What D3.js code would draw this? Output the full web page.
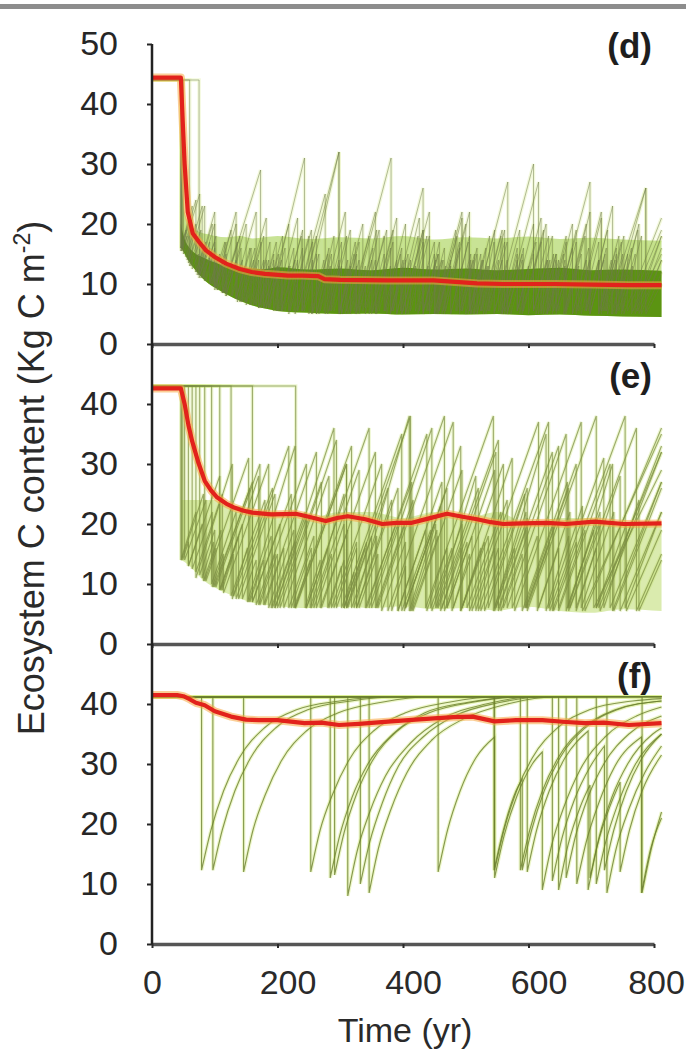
<!DOCTYPE html>
<html>
<head>
<meta charset="utf-8">
<script src="https://cdn.jsdelivr.net/npm/d3@7"></script>
<style>
  body { margin: 0; background: #fff; }
  svg { display: block; }
</style>
</head>
<body>
<div id="chart"></div>
<script>
// ---- Data ----
var endYear = 812;
var xTicks = [0, 200, 400, 600, 800];
var yTicksTop = [0, 10, 20, 30, 40, 50];
var yTicks = [0, 10, 20, 30, 40];
var panelNames = ["(d)", "(e)", "(f)"];

// mean ecosystem C (red lines)
var dMeanYear = [0,46,49,52,57,65,75,86,100,118,140,159,180,217,240,265,275,300,375,449,518,560,642,700,760,812];
var dMeanC    = [44.4,44.4,37,30,22,18.4,17,15.6,14.5,13.4,12.5,12,11.7,11.4,11.4,11.3,10.8,10.7,10.6,10.6,10.1,10.0,10.0,9.9,9.8,9.8];
var eMeanYear = [0,46,52,58,64,74,84,94,104,118,132,146,160,190,229,250,277,295,312,340,367,390,414,440,470,495,518,540,560,590,629,660,705,752,812];
var eMeanC    = [42.6,42.6,40,36.5,33.8,30.2,27.2,25.6,24.4,23.4,22.7,22.2,21.9,21.6,21.7,21.2,20.5,21,21.3,20.8,20.0,20.2,20.2,20.9,21.7,21.2,20.8,20.3,20.0,20.1,20.2,20.0,20.4,20.0,20.1];
var fMeanYear = [0,40,50,60,70,84,100,126,150,170,200,243,270,298,330,381,420,449,480,511,546,580,622,660,690,720,760,812];
var fMeanC    = [41.5,41.5,41.3,40.8,40.2,39.8,38.8,37.9,37.4,37.3,37.3,36.8,36.9,36.5,36.7,37.1,37.4,37.6,37.8,37.9,37.1,37.3,37.3,37.0,36.8,36.9,36.5,36.8];

// dense envelopes of the simulated stands
var dBandYear = [46,48,52,60,70,80,90,100,120,140,160,180,200,250,300,350,400,450,500,550,600,650,700,750,812];
var dBandLow  = [16,15.8,15,13.6,12.2,11,10.1,9.4,8.2,7.2,6.4,5.9,5.5,5.2,5.0,5.1,4.9,5.0,4.9,5.0,4.8,4.9,4.7,4.6,4.5];
var dBandMid  = [20,19,17.5,16,15,14.5,14,13.6,13,12.8,12.6,12.5,12.8,12.4,12.6,12.3,12.7,12.4,12.6,12.3,12.5,12.7,12.3,12.4,12.2];
var dBandHigh = [26,25,22,20,19,18.5,18.3,18,17.8,18,17.6,17.8,18,17.5,17.8,17.6,18,17.4,17.8,17.6,17.9,17.5,17.7,17.4,17.2];
var eBandYear = [46,50,60,80,100,120,140,160,200,250,300,350,400,450,500,550,600,650,700,750,812];
var eBandLow  = [14,13.8,13,10.8,9.4,8.4,7.6,6.9,6.3,6,6.2,6,6.3,5.8,6,5.6,6.2,5.5,5.2,5.8,5.5];
var eBandHigh = [24,24,24,24,24,23,23,22,22,21,22,22,21,22,21,22,20,21,21,20,20];

// stand trajectories, panels d and e: [year of disturbance, C after it, C reached at next disturbance]
var dTraces = [
  [[0,44,44],[47,16,21],[60,13,19],[78,11,17],[100,9,15],[118,8,20],[150,6.5,14],[170,6,17],[198,5.5,13],[218,5,18],[250,5,12],[268,5.5,22],[308,5,14],[330,5,19],[362,5.5,13],[380,5,26],[432,5,15],[456,5.5,13],[476,5,17],[504,5,14],[526,5.5,18],[556,5,12],[572,5,20],[608,5.5,14],[630,5,17],[660,5,13],[680,5.5,21],[716,5,14],[738,5,16],[764,5,15]],
  [[0,44,44],[46,15.5,20],[58,13.5,23],[84,10.5,16],[100,9.5,19],[126,8,14],[144,7,21],[182,6,13],[200,5.5,16],[226,5.5,25],[276,5,14],[298,5.5,17],[324,5,12],[340,6,19],[374,5,15],[396,5.5,18],[424,5,13],[440,5.5,16],[466,5,22],[506,5.5,14],[528,5,19],[562,5.5,27],[616,5,15],[640,5.5,13],[658,5,18],[690,5.5,14],[712,5,16],[740,5.5,20],[776,5,14]],
  [[0,44,44],[48,16,24],[70,12,17],[86,10.5,15],[98,9.5,17],[118,8,14],[134,7.5,16],[156,6.5,12],[170,6,13],[186,6,31],[243,5.5,15],[266,5,13],[284,5.5,19],[316,5,31],[381,5.5,14],[404,5,17],[432,5.5,15],[456,5,18],[486,5.5,14],[508,5,12],[524,5.5,19],[558,5,15],[582,5.5,17],[612,5,14],[634,5.5,20],[670,5,16],[696,5.5,23],[734,5,15],[758,5.5,19]],
  [[0,44,44],[60,14,18],[72,11.5,22],[100,9.5,14],[112,8.5,29],[173,6.5,15],[194,6,12],[206,5.5,18],[238,5.5,14],[256,5,16],[282,5.5,13],[298,5,20],[336,5.5,14],[356,5,17],[384,5.5,12],[398,5,19],[432,5.5,14],[452,5,22],[494,5.5,16],[518,5,13],[534,5.5,17],[562,5,14],[582,5.5,21],[620,5,15],[644,5.5,27],[698,5,14],[720,5.5,17],[748,5,13],[766,5.5,18]],
  [[0,44,44],[75,11,17],[92,10,14],[104,9,13],[114,8.5,18],[140,7,16],[164,6.5,14],[182,6,20],[218,5.5,16],[240,5.5,32],[298,5,15],[322,5.5,13],[340,5,18],[370,5.5,14],[390,5,21],[426,5.5,15],[450,5,13],[468,5.5,16],[490,5,14],[512,5,27],[567,5.5,14],[590,5,17],[620,5.5,15],[644,5,19],[676,5.5,14],[698,5,16],[724,5.5,26],[787,5,10]],
  [[0,44,44],[46,16,19],[54,14.5,20],[70,12,16],[82,11,18],[102,9.5,22],[134,7.5,13],[148,7,17],[174,6,14],[194,5.5,21],[232,5.5,32],[298,5,13],[316,5.5,18],[346,5,15],[370,5.5,20],[404,5,13],[420,5.5,17],[450,5,19],[484,5.5,15],[508,5,18],[538,5.5,14],[558,5,16],[582,5.5,13],[600,5,18],[632,5.5,15],[656,5,20],[692,5.5,14],[712,5,18],[744,5.5,15],[770,5,18]],
  [[0,44,44],[47,15.5,18],[56,14,23],[80,11,15],[94,10,13],[104,9,20],[134,7.5,16],[158,6.5,14],[178,6,18],[208,5.5,14],[228,5,17],[256,5.5,15],[280,5,18],[310,5.5,13],[326,5,16],[352,5.5,21],[390,5,14],[412,5.5,18],[442,5,14],[464,5.5,20],[500,5,15],[524,5.5,17],[545,5,30],[608,5.5,14],[630,5,18],[660,5.5,15],[684,5,17],[712,5.5,14],[732,5,26],[787,5.5,12]],
  [[0,44,44],[49,15.5,25],[76,11.5,16],[92,10,15],[108,9,13],[118,8.5,16],[142,7,14],[162,6.5,17],[188,6,14],[206,5.5,19],[240,5.5,15],[262,5,18],[290,5.5,14],[312,5,22],[356,5.5,16],[380,5,14],[400,5.5,19],[432,5,17],[458,5.5,14],[476,5,18],[506,5.5,16],[532,5,14],[552,5.5,19],[586,5,15],[608,5.5,18],[638,5,14],[658,5.5,22],[698,5,15],[722,5.5,18],[752,5,21]],
  [[0,44,44],[50,15,19],[62,13,17],[76,11.5,20],[100,9.5,14],[112,8.5,17],[136,7,12],[150,7,18],[178,6,15],[202,5.5,13],[220,5.5,19],[254,5,14],[274,5.5,17],[302,5,15],[326,5.5,19],[358,5,12],[372,5.5,16],[398,5,22],[442,5.5,14],[462,5,17],[490,5.5,15],[514,5,19],[546,5.5,14],[566,5,16],[592,5.5,20],[628,5,14],[648,5.5,17],[676,5,22],[716,5.5,15],[740,5,19],[774,5.5,16]],
  [[0,44,44],[46,16,23],[64,12.5,15],[74,11.5,20],[96,10,17],[116,8.5,13],[128,8,22],[166,6.5,14],[186,6,16],[212,5.5,14],[232,5.5,18],[262,5,15],[286,5.5,13],[302,5,17],[330,5.5,14],[350,5,19],[384,5.5,15],[408,5,18],[438,5.5,13],[454,5,21],[494,5.5,15],[518,5,13],[536,5.5,17],[566,5,15],[590,5.5,19],[624,5,14],[644,5.5,16],[670,5,14],[692,5.5,19],[726,5,15],[750,5.5,18],[780,5,14]]
];

var eTraces = [
  [[0,43,43],[46,14,22],[70,11,30],[128,7.5,16],[152,7,33],[228,6,14],[252,6,25],[306,6,12],[322,6,38],[410,5.5,20],[452,6,28],[516,5.5,16],[546,6,35],[628,5.5,18],[664,6,30],[734,5.5,27]],
  [[0,43,43],[47,14,25],[82,10.5,19],[110,9,28],[170,6.5,15],[196,6,36],[290,6,17],[326,6,24],[382,5.5,13],[404,6,33],[492,5.5,18],[536,6,26],[598,5.5,38],[708,6,20],[756,5.5,19]],
  [[0,43,43],[49,14,17],[58,13,28],[108,9,20],[144,7.5,14],[166,6.5,30],[246,6,16],[280,6,13],[302,6,35],[398,5.5,19],[444,6,16],[478,5.5,30],[560,6,15],[590,5.5,27],[662,6,22],[714,5.5,32]],
  [[0,43,43],[52,14,24],[86,10.5,31],[154,7,18],[190,6,22],[244,6,14],[268,6,32],[356,6,20],[402,5.5,26],[470,6,18],[510,5.5,37],[616,6,16],[648,5.5,30],[730,6,27]],
  [[0,43,43],[58,13,20],[80,11,17],[98,9.5,27],[160,7,25],[222,6,16],[254,6,29],[330,6,15],[360,6,38],[466,5.5,17],[502,6,22],[556,5.5,33],[648,6,19],[690,5.5,36]],
  [[0,43,43],[64,12.5,22],[96,9.5,15],[114,8.5,30],[186,6,19],[226,6,33],[318,6,18],[358,6,24],[416,5.5,29],[494,6,17],[530,5.5,25],[594,6,20],[640,5.5,38],[754,6,22]],
  [[0,43,43],[70,12,25],[112,9,15],[130,8,26],[192,6,17],[228,6,30],[310,6,16],[340,6,27],[414,5.5,18],[456,6,34],[552,5.5,19],[596,6,26],[664,5.5,20],[712,6,33]],
  [[0,43,43],[76,11.5,19],[100,9.5,26],[156,7,14],[178,6.5,32],[262,6,20],[306,6,17],[342,6,35],[438,5.5,16],[470,6,29],[546,5.5,21],[598,6,17],[634,5.5,31],[720,6,24],[776,5.5,14]],
  [[0,43,43],[84,10.5,16],[102,9.5,30],[172,6.5,15],[200,6,27],[270,6,19],[312,6,26],[376,5.5,37],[480,6,15],[506,5.5,24],[566,6,35],[660,5.5,19],[704,6,29]],
  [[0,43,43],[95,10,22],[134,7.5,33],[218,6,18],[258,6,15],[286,6,30],[366,5.5,17],[404,6,23],[460,5.5,32],[548,6,16],[578,5.5,37],[684,6,22],[736,5.5,26]],
  [[0,43,43],[108,9,18],[138,7.5,25],[196,6,21],[246,6,36],[346,6,20],[392,5.5,27],[462,6,16],[492,5.5,31],[574,6,18],[614,5.5,22],[666,6,36],[772,5.5,15]],
  [[0,43,43],[126,8,24],[180,6.5,16],[210,6,28],[282,6,14],[306,6,38],[412,5.5,19],[454,6,26],[520,5.5,16],[552,6,32],[638,5.5,17],[676,6,28],[746,5.5,22]],
  [[0,43,43],[160,7,20],[204,6,34],[294,6,16],[326,6,26],[392,5.5,19],[436,6,38],[544,5.5,22],[596,6,30],[676,5.5,16],[708,6,32]],
  [[0,43,43],[229,6,30],[310,6,18],[350,6,36],[446,5.5,20],[494,6,16],[524,5.5,37],[632,6,23],[686,5.5,35]]
];

// panel f trajectories: recovery pieces as [year, C] points
var fTraces = [
  [[[0,41.2],[79,41.2]], [[79,12.3],[94,19],[114,25.5],[139,31],[179,36],[229,39],[299,40.5],[379,41.2],[812,41.2]]],
  [[[0,41.2],[97,41.2]], [[97,12.3],[112,19],[132,25.5],[157,31],[197,36],[247,39],[317,40.5],[397,41.2],[587,41.2]], [[587,12.3],[602,19],[622,25.5],[647,31],[687,36],[737,39],[812,40.5]]],
  [[[0,41.2],[146,41.2]], [[146,12],[161,19],[181,25],[206,30.5],[246,35.5],[296,38.5],[366,40.3],[446,41.2],[546,41.2]], [[546,12.3],[561,19],[581,25.5],[606,31],[646,36],[696,39],[766,40.5],[812,40.9]]],
  [[[0,41.2],[253,41.2]], [[253,12],[268,19],[288,25],[313,30.5],[353,35.5],[403,38.5],[473,40.3],[553,41.2],[725,41.2]], [[725,8.5],[740,16],[760,22.5],[785,28.5],[812,33]]],
  [[[0,41.2],[284,41.2]], [[284,11],[299,18],[319,24.5],[344,30],[384,35],[434,38.5],[504,40.3],[584,41.2],[648,41.2]], [[648,9],[663,16.5],[683,23],[698,26.5]], [[698,11],[713,18],[733,24.5],[758,30],[798,35],[812,36]]],
  [[[0,41.2],[291,41.2]], [[291,11.5],[306,18.5],[326,25],[351,30.5],[391,35.5],[441,38.5],[511,40.3],[591,41.2],[812,41.2]]],
  [[[0,41.2],[312,41.2]], [[312,8],[327,15.5],[347,22],[372,28],[412,33.5],[462,37.5],[532,40],[612,41.2],[812,41.2]]],
  [[[0,41.2],[332,41.2]], [[332,10],[347,17],[367,23.5],[392,29.5],[432,34.5],[482,38],[552,40.2],[632,41.2],[677,41.2]], [[677,10],[692,17],[712,23.5],[737,29.5],[780,34.5]], [[780,8.5],[795,16],[812,21]]],
  [[[0,41.2],[346,41.2]], [[346,8.5],[361,16],[381,22.5],[406,28.5],[446,34],[496,37.5],[566,40],[646,41.2],[812,41.2]]],
  [[[0,41.2],[456,41.2]], [[456,12],[471,19],[491,25.5],[516,31],[546,34.5]], [[546,11],[561,18],[581,24.5],[606,30],[622,32]], [[622,9],[637,16.5],[657,23],[682,29],[722,34.5],[772,38],[812,39.5]]],
  [[[0,41.2],[545,41.2]], [[545,12.3],[560,19],[580,25.5],[590,27.5]], [[590,12.3],[605,19],[625,25.5],[650,31],[690,36],[740,39],[812,40.5]]],
  [[[0,41.2],[598,41.2]], [[598,12],[613,19],[633,25.5],[658,31],[695,35.5]], [[695,9],[710,16.5],[730,23],[746,27]], [[746,12],[761,19],[781,25.5],[812,31.5]]],
  [[[0,41.2],[638,41.2]], [[638,10.5],[653,17.5],[673,24],[698,29.5],[721,33]], [[721,12.3],[736,19],[756,25.5],[781,31],[812,35]]],
  [[[0,41.2],[660,41.2]], [[660,11],[675,18],[695,24.5],[720,30],[760,35],[812,38]]],
  [[[0,41.2],[708,41.2]], [[708,10],[723,17],[743,23.5],[768,29.5],[812,35]]],
  [[[0,41.2],[781,41.2]], [[781,8.5],[796,16],[812,22]]],
  [[[0,41.2],[812,41.2]]]
];

// ---- Chart parameters ----
var svgWidth = 686;
var svgHeight = 1053;
var panelTop = [44, 344, 644];
var panelHeight = 300;
var labelBaseline = [58, 388, 688];
var font = "'Liberation Sans', Arial, Helvetica, sans-serif";

var svg = d3.select("#chart")
  .append("svg")
  .attr("width", svgWidth)
  .attr("height", svgHeight);

// slight softening, the source is a blurry scan
svg.append("filter")
  .attr("id", "soft")
  .append("feGaussianBlur")
  .attr("stdDeviation", 0.5);

var xScale = d3.scaleLinear()
  .domain([0, 800])
  .range([152, 654]);

// turn sawtooth cycles into straight pieces
function sawSegments(cycles) {
  return cycles.map(function(c, i) {
    var tEnd = i < cycles.length - 1 ? cycles[i + 1][0] : endYear;
    return [[c[0], c[1]], [tEnd, c[2]]];
  });
}

function zip() {
  var cols = Array.prototype.slice.call(arguments);
  return cols[0].map(function(v, k) {
    return cols.map(function(c) { return c[k]; });
  });
}

var traceSets = [dTraces.map(sawSegments), eTraces.map(sawSegments), fTraces];
var means = [zip(dMeanYear, dMeanC), zip(eMeanYear, eMeanC), zip(fMeanYear, fMeanC)];
var bandLayers = [
  [
    {data: zip(dBandYear, dBandLow, dBandHigh), fill: "#a3d04e", opacity: 0.6},
    {data: zip(dBandYear, dBandLow, dBandMid), fill: "#55900a", opacity: 0.95}
  ],
  [
    {data: zip(eBandYear, eBandLow, eBandHigh), fill: "#bcdb6c", opacity: 0.55}
  ],
  []
];
var traceStyle = [
  {halo: "#e0f0a8", haloOp: 0.4, stroke: "#6e7c48", op: 0.5, w: 1},
  {halo: "#d9ee9c", haloOp: 0.45, stroke: "#7b8d42", op: 0.72, w: 1.1},
  {halo: "#dcef94", haloOp: 0.5, stroke: "#6c7f2e", op: 0.8, w: 1.1}
];

// top rule of the page
svg.append("rect")
  .attr("x", 0).attr("y", 4)
  .attr("width", svgWidth).attr("height", 5)
  .attr("fill", "#8d8d8d");

panelTop.forEach(function(top, i) {
  var yScale = d3.scaleLinear()
    .domain([0, 50])
    .range([top + panelHeight, top]);

  svg.append("clipPath")
    .attr("id", "clip" + i)
    .append("rect")
    .attr("x", xScale(0))
    .attr("y", top)
    .attr("width", xScale(endYear) - xScale(0) + 2)
    .attr("height", panelHeight);

  var plot = svg.append("g")
    .attr("clip-path", "url(#clip" + i + ")")
    .append("g")
    .attr("filter", "url(#soft)");

  // trajectories
  var line = d3.line()
    .x(d => xScale(d[0]))
    .y(d => yScale(d[1]))
    .curve(d3.curveMonotoneX);
  var paths = traceSets[i].map(function(segs) {
    return segs.map(function(s, k) {
      var p = line(s);
      return k ? "L" + p.slice(1) : p;
    }).join("");
  });
  var st = traceStyle[i];

  // pale glow first, then the envelopes, then the line cores
  plot.selectAll("path.halo")
    .data(paths)
    .enter()
    .append("path")
    .attr("class", "halo")
    .attr("d", d => d)
    .attr("fill", "none")
    .attr("stroke", st.halo)
    .attr("stroke-width", 3.5)
    .attr("opacity", st.haloOp);

  var area = d3.area()
    .x(d => xScale(d[0]))
    .y0(d => yScale(d[1]))
    .y1(d => yScale(d[2]))
    .curve(d3.curveMonotoneX);
  bandLayers[i].forEach(function(b) {
    plot.append("path")
      .attr("d", area(b.data))
      .attr("fill", b.fill)
      .attr("opacity", b.opacity);
  });

  plot.selectAll("path.trace")
    .data(paths)
    .enter()
    .append("path")
    .attr("class", "trace")
    .attr("d", d => d)
    .attr("fill", "none")
    .attr("stroke", st.stroke)
    .attr("stroke-width", st.w)
    .attr("opacity", st.op);

  // mean line
  var meanLine = d3.line()
    .x(d => xScale(d[0]))
    .y(d => yScale(d[1]));
  plot.append("path")
    .attr("d", meanLine(means[i]))
    .attr("fill", "none")
    .attr("stroke", "#f7a640")
    .attr("stroke-width", 8)
    .attr("stroke-linejoin", "round")
    .attr("opacity", 0.55);
  plot.append("path")
    .attr("d", meanLine(means[i]))
    .attr("fill", "none")
    .attr("stroke", "#e2231a")
    .attr("stroke-width", 4.2)
    .attr("stroke-linejoin", "round");

  // y axis ticks and labels
  var yAxis = d3.axisLeft(yScale)
    .tickValues(i === 0 ? yTicksTop : yTicks)
    .tickSize(5)
    .tickPadding(29);
  var yg = svg.append("g")
    .attr("transform", `translate(${xScale(0)}, 0)`)
    .call(yAxis)
    .attr("font-size", 34)
    .attr("font-family", font)
    .attr("color", "#262626");
  yg.select(".domain").remove();
  yg.selectAll("line").attr("stroke-width", 2);

  // bottom axis of each panel
  var xAxis = d3.axisBottom(xScale)
    .tickValues(xTicks)
    .tickSize(4)
    .tickSizeOuter(0)
    .tickPadding(22)
    .tickFormat(i === 2 ? d3.format("d") : "");
  var xg = svg.append("g")
    .attr("transform", `translate(0, ${top + panelHeight})`)
    .call(xAxis)
    .attr("font-size", 34)
    .attr("font-family", font)
    .attr("color", "#2a2a2a");
  xg.select(".domain")
    .attr("stroke", "#555")
    .attr("stroke-width", 3.5);
  xg.selectAll("line").attr("stroke-width", 2);
  xg.selectAll("text").attr("dx", (d, k) => [0, 10, 10, 10, 2][k]);

  // panel label
  svg.append("text")
    .attr("x", 652)
    .attr("y", labelBaseline[i])
    .attr("text-anchor", "end")
    .attr("font-family", font)
    .attr("font-weight", "bold")
    .attr("font-size", 35)
    .attr("fill", "#1e1e1e")
    .text(panelNames[i]);
});

// left axis line
svg.append("line")
  .attr("x1", xScale(0)).attr("x2", xScale(0))
  .attr("y1", panelTop[0]).attr("y2", panelTop[2] + panelHeight)
  .attr("stroke", "#222")
  .attr("stroke-width", 2.5);

// axis titles
svg.append("text")
  .attr("x", 405)
  .attr("y", 1042)
  .attr("text-anchor", "middle")
  .attr("font-family", font)
  .attr("font-size", 34)
  .attr("fill", "#2a2a2a")
  .text("Time (yr)");

var yTitle = svg.append("text")
  .attr("transform", "translate(44, 478) rotate(-90)")
  .attr("text-anchor", "middle")
  .attr("font-family", font)
  .attr("font-size", 36)
  .attr("fill", "#2a2a2a");
yTitle.append("tspan").text("Ecosystem C content (Kg C m");
yTitle.append("tspan").attr("dy", -14).attr("font-size", 23).text("-2");
yTitle.append("tspan").attr("dy", 14).text(")");
</script>
</body>
</html>
